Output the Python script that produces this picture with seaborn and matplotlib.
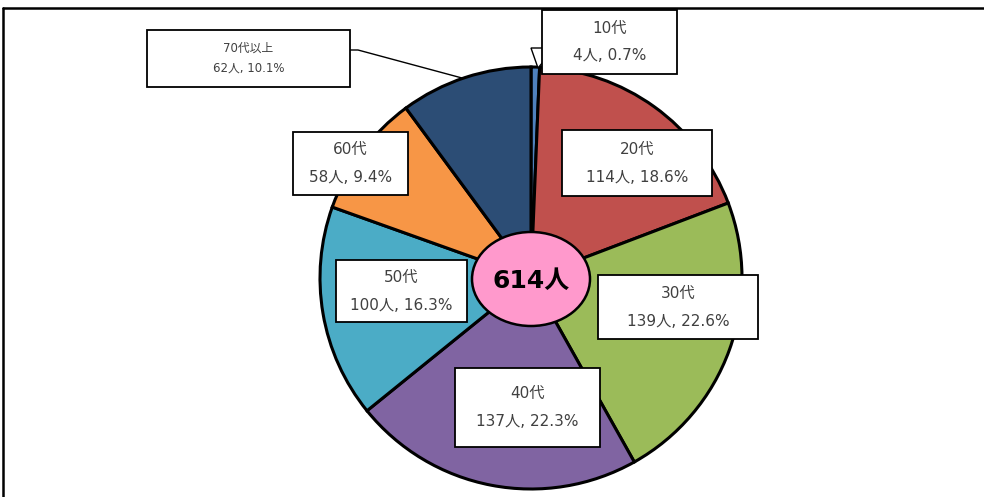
import matplotlib
matplotlib.use("Agg")
import matplotlib.pyplot as plt
from matplotlib.patches import Ellipse, Rectangle, Polygon
import seaborn as sns

# ---- data ----
categories = ["10代", "20代", "30代", "40代", "50代", "60代", "70代以上"]
counts = [4, 114, 139, 137, 100, 58, 62]
percents = ["0.7%", "18.6%", "22.6%", "22.3%", "16.3%", "9.4%", "10.1%"]
total_label = "614人"
colors = ["#4F81BD", "#C0504D", "#9BBB59", "#8064A2", "#4BACC6", "#F79646", "#2C4D75"]

sns.set_theme(style="white")
plt.rcParams['font.family'] = ['DejaVu Sans', 'Noto Sans CJK JP']

W, H = 984, 497
fig = plt.figure(figsize=(W / 100, H / 100), dpi=100)
ax = fig.add_axes([0, 0, 1, 1])

def Y(y):
    return H - y

palette = sns.color_palette(colors)
cx, cy, r = 531, 278, 211
ax.pie(counts, colors=palette, startangle=90, counterclock=False,
       center=(cx, Y(cy)), radius=r, frame=True,
       wedgeprops=dict(edgecolor="black", linewidth=2.2))
ax.set_xlim(0, W)
ax.set_ylim(0, H)
ax.set_aspect("equal")
ax.axis("off")

# center ellipse
ax.add_patch(Ellipse((cx, Y(279)), 118, 94, facecolor="#FF99CC",
                     edgecolor="black", linewidth=1.8, zorder=5))
ax.text(cx, Y(281), total_label, ha="center", va="center", fontsize=18,
        fontweight="bold", color="black", zorder=6)

# label boxes (x0, y0, x1, y1 in pixels), font sizes
boxes = [
    (542, 10, 677, 74, 11),
    (562, 130, 712, 196, 11),
    (598, 275, 758, 339, 11),
    (455, 368, 600, 447, 11),
    (336, 260, 467, 322, 11),
    (293, 132, 408, 195, 11),
    (147, 30, 350, 87, 8.5),
]

# leader lines / callouts
ax.plot([350, 358, 462], [Y(50), Y(50), Y(78)], color="black", lw=1.0, zorder=6)
ax.add_patch(Polygon([(531, Y(48)), (543, Y(48)), (543, Y(62)), (538, Y(68))],
                     closed=True, facecolor="white", edgecolor="black",
                     linewidth=1.0, zorder=6))

for (x0, y0, x1, y1, fs), cat, n, p in zip(boxes, categories, counts, percents):
    ax.add_patch(Rectangle((x0, Y(y1)), x1 - x0, y1 - y0, facecolor="white",
                           edgecolor="black", linewidth=1.3, zorder=7))
    xc = (x0 + x1) / 2
    yc = (y0 + y1) / 2
    gap = 14 if fs > 10 else 10
    ax.text(xc, Y(yc - gap), cat, ha="center", va="center", fontsize=fs,
            color="#404040", zorder=8)
    ax.text(xc, Y(yc + gap), f"{n}人, {p}", ha="center", va="center",
            fontsize=fs, color="#404040", zorder=8)

# outer frame (top and left edges visible)
ax.plot([3, W], [Y(8), Y(8)], color="black", lw=1.8, zorder=10, clip_on=False)
ax.plot([3, 3], [Y(8), 0], color="black", lw=1.8, zorder=10, clip_on=False)

fig.savefig("out.png", dpi=100)
